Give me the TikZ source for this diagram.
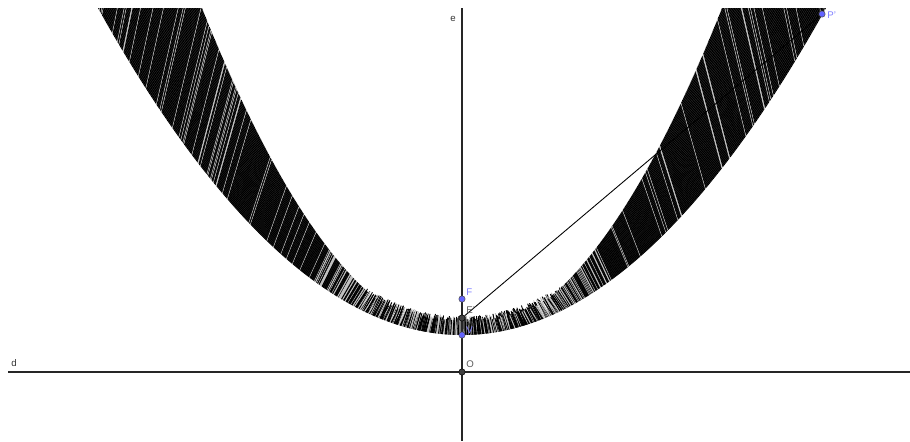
\documentclass[tikz,border=0pt]{standalone}
\usepackage{fontspec}
\setsansfont{Liberation Sans}
\usetikzlibrary{positioning}
\definecolor{ptblue}{RGB}{100,100,255}
\definecolor{lblblue}{RGB}{125,125,255}
\definecolor{ptgray}{RGB}{64,64,64}
\definecolor{lblgray}{RGB}{90,90,90}

\begin{document}
\begin{tikzpicture}[
    x=0.02cm, y=-0.02cm,
    axis/.style={line width=0.6pt, black!85},
    trace/.style={line width=0.5pt},
    freept/.style={circle, draw=black!70, fill=ptblue, inner sep=0pt, minimum size=3.6pt, line width=0.3pt},
    fixpt/.style={circle, draw=black, fill=ptgray, inner sep=0pt, minimum size=3.6pt, line width=0.3pt},
    lbl/.style={font=\fontsize{5.5}{6}\sffamily, inner sep=0pt, anchor=base west},
]
\useasboundingbox (0,0) rectangle (910,441);

% traced segments
\begin{scope}
\clip (0,8) rectangle (910,441);
\pgfmathsetseed{11}
\foreach \s in {-372,-371.5,...,372}{
    \pgfmathsetmacro{\hp}{(\s/20)*(\s/20)*0.9877}
    \pgfmathsetmacro{\hq}{max((\s/20)*(\s/20)*1.5652, \hp+12+7*rnd)}
    \pgfmathsetmacro{\pw}{abs(\s)<150 ? 0.35 : 0.07}
    \pgfmathtruncatemacro{\g}{rnd<\pw ? 25 : 100}
    \draw[trace, black!\g] (462+\s, 335-\hp) -- (462+0.9*\s, 335-\hq);
}
\end{scope}

% axes
\coordinate (dL) at (8,372);
\coordinate (dR) at (910,372);
\coordinate (eT) at (462,8);
\coordinate (eB) at (462,441);
\draw[axis] (dL) -- (dR);
\draw[axis] (eT) -- (eB);

% points
\node[fixpt] (O) at (462,372) {};
\node[freept] (F) at (462,299) {};
\node[fixpt] (Ep) at (462,318) {};
\node[freept] (V) at (462,335) {};
\node[freept] (Pp) at (822,14) {};

\draw[line width=0.5pt] (Ep) -- (Pp);

% labels
\node[lbl, black!80] at (11,366) {d};
\node[lbl, black!80] at (450,21) {e};
\node[lbl, lblblue] at (466,295) {F};
\node[lbl, lblgray] at (466,313) {E'};
\node[lbl, lblblue] at (466,333) {V};
\node[lbl, lblgray] at (466,367) {O};
\node[lbl, lblblue] at (827,18) {P'};

\end{tikzpicture}
\end{document}
